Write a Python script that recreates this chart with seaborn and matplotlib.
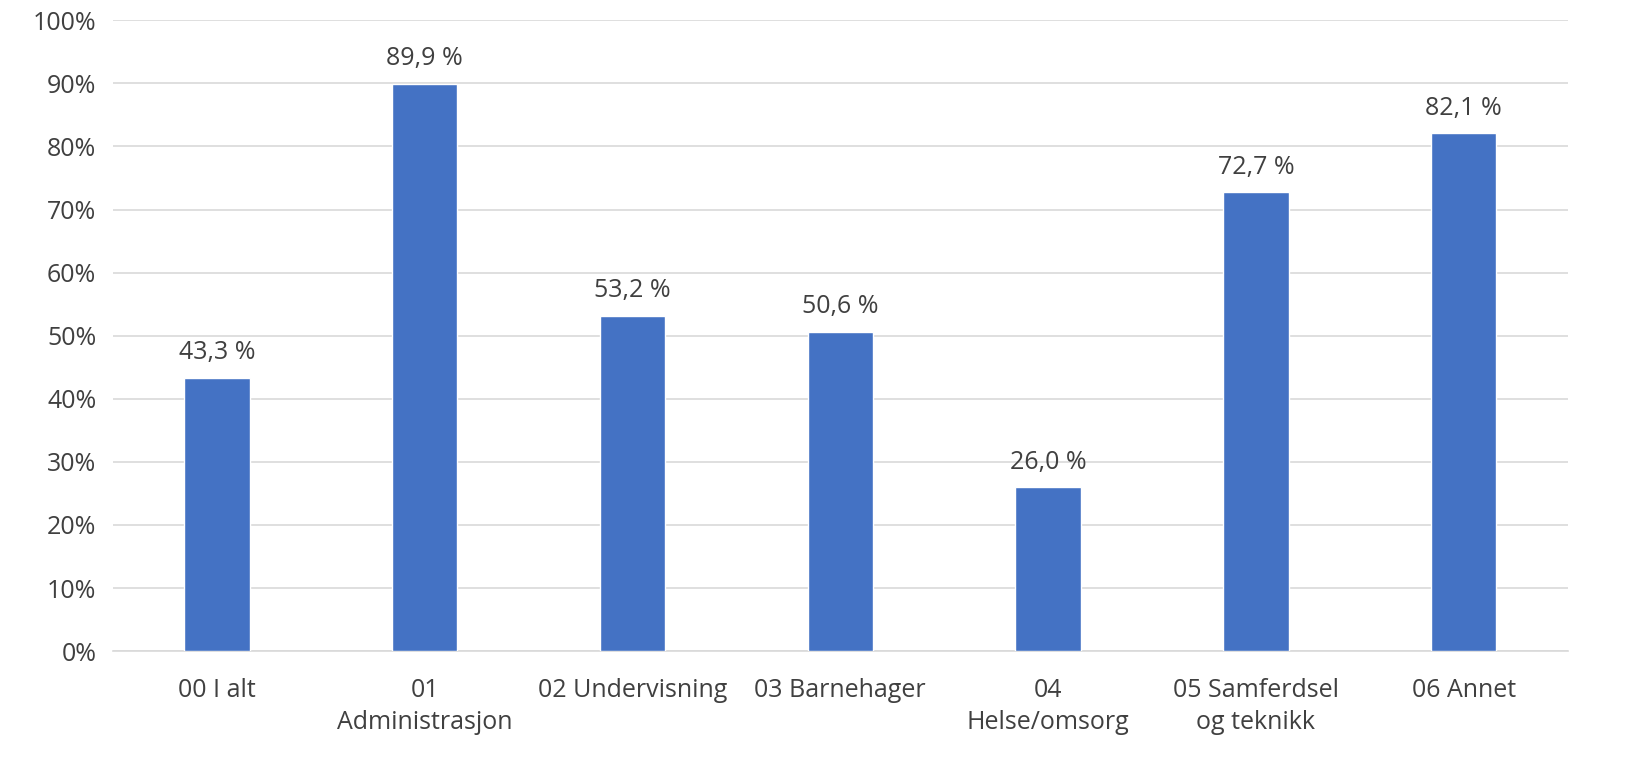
"""Bar chart of shares by sector, recreated with seaborn."""

import matplotlib

matplotlib.use('Agg')

import matplotlib.pyplot as plt
import pandas as pd
import seaborn as sns
from matplotlib.ticker import FuncFormatter

categories = [
    '00 I alt',
    '01\nAdministrasjon',
    '02 Undervisning',
    '03 Barnehager',
    '04\nHelse/omsorg',
    '05 Samferdsel\nog teknikk',
    '06 Annet',
]
values = [43.3, 89.9, 53.2, 50.6, 26.0, 72.7, 82.1]
y_ticks = list(range(0, 101, 10))


def main() -> None:
    sns.set_theme(style='white')
    plt.rcParams['font.family'] = ['Open Sans', 'DejaVu Sans']
    text_color = '#404040'

    df = pd.DataFrame({'category': categories, 'value': values})
    fig, ax = plt.subplots(figsize=(16.38, 7.78), dpi=100)
    fig.subplots_adjust(left=0.069, right=0.957, top=0.974, bottom=0.163)

    sns.barplot(data=df, x='category', y='value', color='#4472C4',
                saturation=1, width=0.315, ax=ax, zorder=3)

    for i, v in enumerate(values):
        ax.text(i, v + 2.0, f'{v:.1f} %'.replace('.', ','), ha='center',
                va='bottom', fontsize=18, color=text_color)

    ax.set_ylim(0, 100)
    ax.set_xlim(-0.5, len(categories) - 0.5)
    ax.set_yticks(y_ticks)
    ax.yaxis.set_major_formatter(FuncFormatter(lambda v, _: f'{v:.0f}%'))
    ax.grid(axis='y', color='#D9D9D9', linewidth=1.2, zorder=0)
    ax.set_xlabel('')
    ax.set_ylabel('')
    for side in ['top', 'right', 'left']:
        ax.spines[side].set_visible(False)
    ax.spines['bottom'].set_color('#D9D9D9')
    ax.spines['bottom'].set_linewidth(1.2)
    ax.tick_params(axis='both', length=0, labelsize=18, colors=text_color)
    ax.tick_params(axis='x', pad=19)
    ax.tick_params(axis='y', pad=12)
    for lbl in ax.get_xticklabels():
        lbl.set_linespacing(1.4)

    fig.savefig('out.png', dpi=100)
    plt.close(fig)


if __name__ == '__main__':
    main()
